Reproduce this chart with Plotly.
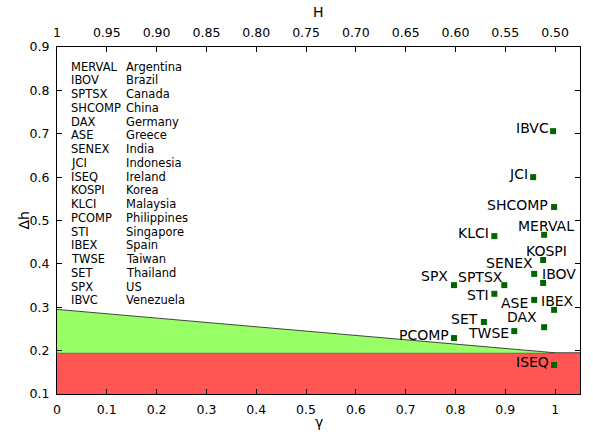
import plotly.graph_objects as go

# ---- data ----
codes = ["IBVC", "JCI", "SHCOMP", "MERVAL", "KLCI", "KOSPI", "SENEX", "IBOV", "SPX",
         "SPTSX", "STI", "ASE", "IBEX", "SET", "DAX", "TWSE", "PCOMP", "ISEQ"]
gamma = [0.996, 0.956, 0.998, 0.978, 0.878, 0.976, 0.958, 0.976, 0.797,
         0.898, 0.878, 0.958, 0.998, 0.857, 0.978, 0.918, 0.797, 0.998]
delta_h = [0.706, 0.600, 0.531, 0.467, 0.464, 0.409, 0.377, 0.356, 0.351,
           0.351, 0.331, 0.317, 0.294, 0.266, 0.254, 0.245, 0.229, 0.167]

legend_codes = ["MERVAL", "IBOV", "SPTSX", "SHCOMP", "DAX", "ASE", "SENEX", "JCI", "ISEQ",
                "KOSPI", "KLCI", "PCOMP", "STI", "IBEX", "TWSE", "SET", "SPX", "IBVC"]
legend_countries = ["Argentina", "Brazil", "Canada", "China", "Germany", "Greece", "India",
                    "Indonesia", "Ireland", "Korea", "Malaysia", "Philippines", "Singapore",
                    "Spain", "Taiwan", "Thailand", "US", "Venezuela"]

x_ticks = [0, 0.1, 0.2, 0.3, 0.4, 0.5, 0.6, 0.7, 0.8, 0.9, 1.0]
x_ticklabels = ["0", "0.1", "0.2", "0.3", "0.4", "0.5", "0.6", "0.7", "0.8", "0.9", "1"]
h_ticklabels = ["1", "0.95", "0.90", "0.85", "0.80", "0.75", "0.70", "0.65", "0.60", "0.55", "0.50"]
y_ticks = [0.1, 0.2, 0.3, 0.4, 0.5, 0.6, 0.7, 0.8, 0.9]
y_ticklabels = ["0.1", "0.2", "0.3", "0.4", "0.5", "0.6", "0.7", "0.8", "0.9"]

red_bottom = 0.1
red_top = 0.195
green_start = 0.295   # boundary at gamma = 0
green_end_gamma = 1.0
x_max = 1.05

# ---- label offsets (pixels: dx right, dy up) ----
label_offsets = {
    "IBVC": (-21, 3), "JCI": (-15, 3), "SHCOMP": (-37, 2), "MERVAL": (2, 9),
    "KLCI": (-21, 3), "KOSPI": (3, 9), "SENEX": (-25, 11), "IBOV": (16, 9),
    "SPX": (-19, 9), "SPTSX": (-24, 8), "STI": (-16, -1), "ASE": (-20, -3),
    "IBEX": (3, 9), "SET": (-19, 3), "DAX": (-22, 10), "TWSE": (-26, -2),
    "PCOMP": (-30, 3), "ISEQ": (-22, 3),
}

FONT = "DejaVu Sans"
fig = go.Figure()

# red zone
fig.add_trace(go.Scatter(
    x=[0, x_max, x_max, 0, 0], y=[red_bottom, red_bottom, red_top, red_top, red_bottom],
    fill="toself", fillcolor="#ff5555", mode="lines",
    line=dict(color="rgba(0,0,0,0)", width=0), hoverinfo="skip", showlegend=False))
fig.add_trace(go.Scatter(
    x=[0, x_max], y=[red_top, red_top], mode="lines",
    line=dict(color="#444444", width=1), hoverinfo="skip", showlegend=False))
# green zone
fig.add_trace(go.Scatter(
    x=[0, 0, green_end_gamma, 0], y=[red_top, green_start, red_top, red_top],
    fill="toself", fillcolor="#99ff66", mode="lines",
    line=dict(color="rgba(0,0,0,0)", width=0), hoverinfo="skip", showlegend=False))
fig.add_trace(go.Scatter(
    x=[0, green_end_gamma], y=[green_start, red_top], mode="lines",
    line=dict(color="#444444", width=1), hoverinfo="skip", showlegend=False))

# points
fig.add_trace(go.Scatter(
    x=gamma, y=delta_h, mode="markers",
    marker=dict(symbol="square", size=6, color="#006400"),
    showlegend=False))

# invisible trace on top axis
fig.add_trace(go.Scatter(x=[0, x_max], y=[0.5, 0.5], xaxis="x2", mode="markers",
                         marker=dict(opacity=0), hoverinfo="skip", showlegend=False))

ann = []
for c, gx, dy in zip(codes, gamma, delta_h):
    ox, oy = label_offsets[c]
    ann.append(dict(x=gx, y=dy, xref="x", yref="y", text=c, showarrow=False,
                    xanchor="center", yanchor="middle", xshift=ox, yshift=oy,
                    font=dict(family=FONT, size=14, color="black")))

# legend table
W, H = 593, 439
L, R, T, B = 57, 13, 47, 45
plot_h = H - T - B
plot_w = W - L - R
row0, row_step = 66.7, 13.75
for i, (c, country) in enumerate(zip(legend_codes, legend_countries)):
    py = row0 + i * row_step
    yp = 1 - (py - T) / plot_h
    ann.append(dict(x=(69 - L) / plot_w, y=yp, xref="paper", yref="paper", text=c,
                    showarrow=False, xanchor="left", yanchor="middle",
                    font=dict(family=FONT, size=11.5, color="black")))
    ann.append(dict(x=(124 - L) / plot_w, y=yp, xref="paper", yref="paper", text=country,
                    showarrow=False, xanchor="left", yanchor="middle",
                    font=dict(family=FONT, size=11.5, color="black")))

# axis titles
ann.append(dict(x=0.5, y=0, xref="paper", yref="paper", text="γ", showarrow=False,
                xanchor="center", yanchor="middle", yshift=-28,
                font=dict(family=FONT, size=14, color="black")))
ann.append(dict(x=0.5, y=1, xref="paper", yref="paper", text="H", showarrow=False,
                xanchor="center", yanchor="middle", yshift=35,
                font=dict(family=FONT, size=14, color="black")))
ann.append(dict(x=0, y=0.5, xref="paper", yref="paper", text="Δh", showarrow=False,
                xanchor="center", yanchor="middle", xshift=-34, textangle=-90,
                font=dict(family=FONT, size=14, color="black")))

axis_common = dict(showgrid=False, zeroline=False, showline=True, linecolor="black",
                   linewidth=1, ticks="inside", ticklen=5, tickcolor="black",
                   tickfont=dict(family=FONT, size=12.5, color="black"))

fig.update_layout(
    width=W, height=H, margin=dict(l=L, r=R, t=T, b=B),
    paper_bgcolor="white", plot_bgcolor="white",
    xaxis=dict(range=[0, x_max], tickvals=x_ticks, ticktext=x_ticklabels,
               mirror=True, ticklabelstandoff=4, **axis_common),
    xaxis2=dict(range=[0, x_max], overlaying="x", side="top", tickvals=x_ticks,
                ticktext=h_ticklabels, ticklabelstandoff=4, **axis_common),
    yaxis=dict(range=[0.1, 0.9], tickvals=y_ticks, ticktext=y_ticklabels,
               mirror="ticks", ticklabelstandoff=4, **axis_common),
    annotations=ann,
    showlegend=False,
)

fig.write_html("out.html")
